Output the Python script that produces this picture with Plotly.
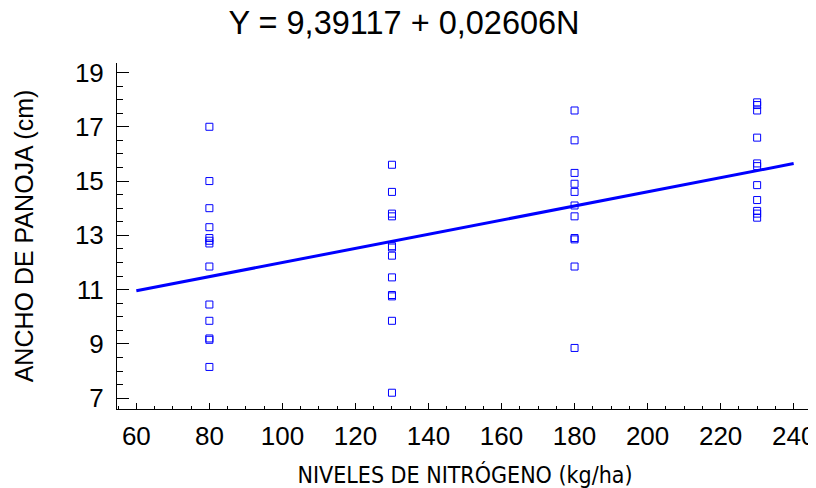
import plotly.graph_objects as go

# Data
n80 = [17.0, 15.0, 14.0, 13.3, 12.9, 12.8, 12.7, 11.85, 10.45, 9.85, 9.2, 9.15, 8.15]
n130 = [15.6, 14.6, 13.8, 13.7, 12.6, 12.55, 12.25, 11.45, 10.8, 10.75, 9.85, 7.2]
n180 = [17.6, 16.5, 15.3, 14.9, 14.6, 14.1, 13.7, 12.9, 12.85, 11.85, 8.85]
n230 = [17.9, 17.8, 17.6, 16.6, 15.65, 15.55, 14.85, 14.3, 13.9, 13.8, 13.65]
levels = [80, 130, 180, 230]
intercept = 9.39117
slope = 0.02606
line_x = [60, 240]
x_ticks = [60, 80, 100, 120, 140, 160, 180, 200, 220, 240]
y_ticks = [7, 9, 11, 13, 15, 17, 19]

groups = [n80, n130, n180, n230]
xs, ys = [], []
for lv, vals in zip(levels, groups):
    xs += [lv] * len(vals)
    ys += vals

line_y = [intercept + slope * v for v in line_x]

BLUE = "#0000FF"
FONT = "Liberation Sans, Arial, sans-serif"

# The page body adds an 8px offset; the figure is sized to fill the rest.
W, H = 808, 480

fig = go.Figure()
fig.add_trace(go.Scatter(
    x=line_x, y=line_y, mode="lines",
    line=dict(color=BLUE, width=3), hoverinfo="skip", showlegend=False))
fig.add_trace(go.Scatter(
    x=xs, y=ys, mode="markers",
    marker=dict(symbol="square-open", size=7, color=BLUE, line=dict(width=1, color=BLUE)),
    showlegend=False))

fig.update_layout(
    width=W, height=H,
    margin=dict(l=109, r=3, t=55, b=79),
    paper_bgcolor="white", plot_bgcolor="white",
    font=dict(family=FONT, color="#000000", size=26),
    title=dict(text="Y = 9,39117 + 0,02606N", x=396 / W, xanchor="center",
               y=1 - 14.5 / H, yanchor="middle", yref="container",
               font=dict(size=32.5, family=FONT, color="#000000")),
)

fig.update_xaxes(
    range=[54.7, 245.3], tickvals=x_ticks, ticktext=[str(v) for v in x_ticks],
    automargin=False,
    showgrid=False, zeroline=False, showline=True, linecolor="black", linewidth=1,
    ticks="inside", ticklen=6, tickcolor="black", tickwidth=1,
    minor=dict(dtick=5, tick0=0, ticks="inside", ticklen=3, tickcolor="black", showgrid=False),
    tickfont=dict(size=26, family=FONT),
    ticklabelstandoff=4,
    title=dict(text="NIVELES DE NITRÓGENO (kg/ha)", standoff=17,
               font=dict(size=23, family="DejaVu Sans Condensed, sans-serif")),
)
fig.update_yaxes(
    range=[6.6, 19.35], tickvals=y_ticks, ticktext=[str(v) for v in y_ticks],
    automargin=False,
    showgrid=False, zeroline=False, showline=True, linecolor="black", linewidth=1,
    ticks="inside", ticklen=12, tickcolor="black", tickwidth=1,
    minor=dict(dtick=0.5, tick0=0, ticks="inside", ticklen=6, tickcolor="black", showgrid=False),
    tickfont=dict(size=26, family=FONT),
    ticklabelstandoff=7,
    title=dict(text="ANCHO DE PANOJA (cm)", standoff=34, font=dict(size=25, family=FONT)),
)

fig.write_html("out.html")
